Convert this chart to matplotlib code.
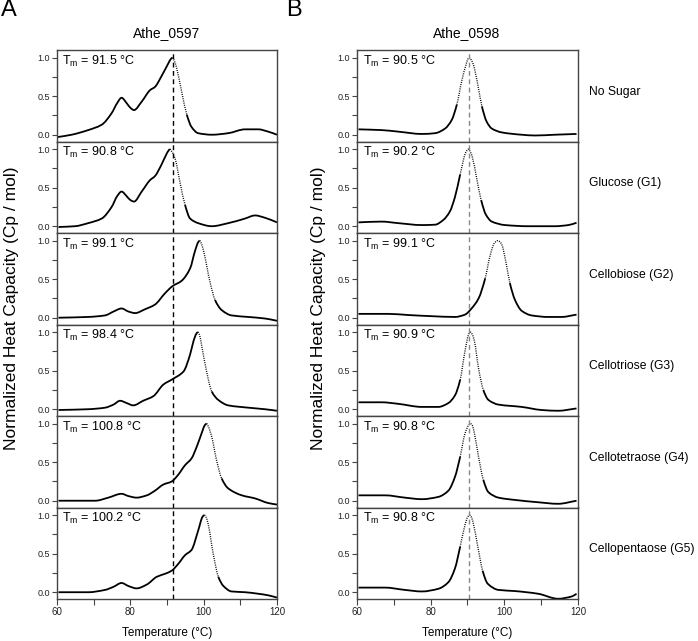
import matplotlib
matplotlib.use("Agg")
import matplotlib.pyplot as plt
from matplotlib.ticker import MultipleLocator
from matplotlib.path import Path
from matplotlib.patches import PathPatch

plt.rcParams['font.family'] = ['Liberation Sans', 'DejaVu Sans']
plt.rcParams['mathtext.fontset'] = 'custom'
plt.rcParams['mathtext.rm'] = 'Liberation Sans'
plt.rcParams['mathtext.it'] = 'Liberation Sans'

sugars = ["No Sugar", "Glucose (G1)", "Cellobiose (G2)", "Cellotriose (G3)",
          "Cellotetraose (G4)", "Cellopentaose (G5)"]
tm_0597 = ["91.5", "90.8", "99.1", "98.4", "100.8", "100.2"]
tm_0598 = ["90.5", "90.2", "99.1", "90.9", "90.8", "90.8"]
ref_line_0597 = 91.5
ref_line_0598 = 90.5

# Athe_0597 curves (temperature, normalized Cp)
t_a1 = [60.2, 64.0, 68.5, 72.2, 74.9, 76.4, 77.6, 79.0, 80.0, 81.0, 83.1, 85.4, 86.7, 88.5, 90.4, 91.0, 91.5, 92.0, 92.6, 94.0, 95.4, 96.7, 98.5, 102.2, 106.7, 111.3, 114.9, 117.6, 120.0]
v_a1 = [-0.03, 0.0, 0.06, 0.13, 0.28, 0.41, 0.48, 0.41, 0.35, 0.32, 0.43, 0.58, 0.62, 0.76, 0.93, 0.98, 1.0, 0.96, 0.87, 0.56, 0.26, 0.10, 0.02, 0.0, 0.02, 0.07, 0.07, 0.04, 0.0]
t_a2 = [60.4, 64.9, 68.5, 72.2, 74.9, 76.4, 77.6, 79.0, 80.0, 81.0, 83.1, 85.4, 86.7, 88.5, 90.0, 90.4, 90.8, 91.3, 92.2, 93.5, 94.9, 96.3, 98.5, 102.2, 106.7, 111.3, 114.0, 116.7, 120.0]
v_a2 = [-0.01, 0.0, 0.04, 0.10, 0.25, 0.39, 0.45, 0.39, 0.34, 0.32, 0.45, 0.60, 0.65, 0.80, 0.95, 0.98, 1.0, 0.97, 0.88, 0.58, 0.28, 0.10, 0.04, 0.0, 0.04, 0.10, 0.14, 0.11, 0.05]
t_a3 = [60.4, 68.5, 73.1, 75.4, 77.6, 79.5, 81.3, 84.0, 86.7, 89.5, 91.5, 94.0, 96.3, 97.6, 98.5, 98.9, 99.4, 100.2, 101.7, 103.1, 104.9, 107.6, 112.2, 116.7, 120.0]
v_a3 = [0.0, 0.01, 0.03, 0.08, 0.12, 0.08, 0.06, 0.11, 0.17, 0.32, 0.41, 0.48, 0.64, 0.86, 0.98, 1.0, 0.96, 0.82, 0.47, 0.23, 0.10, 0.03, 0.01, -0.01, -0.04]
t_a4 = [60.4, 68.5, 73.1, 75.4, 77.2, 79.0, 80.8, 83.5, 86.3, 89.0, 91.5, 94.5, 96.3, 97.2, 98.0, 98.4, 98.9, 99.4, 100.8, 102.2, 104.0, 106.7, 112.2, 116.7, 120.0]
v_a4 = [-0.01, 0.0, 0.02, 0.06, 0.11, 0.08, 0.05, 0.11, 0.17, 0.32, 0.39, 0.49, 0.71, 0.88, 0.98, 1.0, 0.96, 0.84, 0.49, 0.23, 0.12, 0.05, 0.02, 0.0, -0.02]
t_a5 = [60.4, 70.4, 74.0, 77.6, 79.5, 81.7, 84.5, 86.7, 89.0, 91.3, 93.1, 94.9, 96.7, 98.1, 99.4, 100.3, 100.8, 101.3, 102.2, 103.5, 104.9, 106.7, 110.4, 114.0, 117.6, 120.0]
v_a5 = [0.0, 0.0, 0.04, 0.09, 0.06, 0.04, 0.07, 0.13, 0.21, 0.25, 0.34, 0.46, 0.55, 0.70, 0.87, 0.98, 1.0, 0.96, 0.83, 0.53, 0.29, 0.16, 0.07, 0.03, -0.03, -0.05]
t_a6 = [60.4, 68.5, 73.1, 75.4, 77.6, 79.5, 81.7, 84.5, 87.2, 89.5, 91.3, 93.1, 94.9, 96.7, 98.5, 99.7, 100.2, 100.7, 101.3, 102.6, 104.0, 105.4, 107.6, 111.3, 114.9, 117.6, 120.0]
v_a6 = [0.0, 0.0, 0.03, 0.07, 0.12, 0.08, 0.05, 0.10, 0.20, 0.24, 0.28, 0.37, 0.48, 0.55, 0.80, 0.98, 1.0, 0.97, 0.87, 0.50, 0.20, 0.08, 0.01, 0.0, -0.02, -0.04, -0.07]

# Athe_0598 curves
t_b1 = [60.4, 66.7, 71.2, 77.6, 81.2, 83.9, 85.7, 87.1, 88.4, 89.6, 90.1, 90.5, 90.9, 91.6, 92.8, 93.9, 95.2, 96.6, 99.3, 104.7, 108.3, 113.7, 119.6]
v_b1 = [0.07, 0.06, 0.04, 0.01, 0.02, 0.08, 0.19, 0.39, 0.69, 0.91, 0.98, 1.0, 0.98, 0.91, 0.65, 0.37, 0.17, 0.08, 0.03, 0.0, -0.01, 0.0, 0.01]
t_b2 = [60.4, 66.7, 71.2, 77.6, 81.2, 83.4, 85.2, 86.6, 88.0, 89.3, 89.8, 90.2, 90.6, 91.3, 92.5, 93.7, 95.0, 96.6, 100.2, 106.5, 113.7, 117.4, 119.6]
v_b2 = [0.05, 0.06, 0.04, 0.015, 0.02, 0.08, 0.19, 0.38, 0.67, 0.93, 0.98, 1.0, 0.98, 0.90, 0.62, 0.34, 0.15, 0.06, 0.015, 0.0, 0.0, 0.015, 0.045]
t_b3 = [60.4, 68.5, 73.9, 80.3, 86.6, 89.3, 91.1, 93.0, 94.8, 96.1, 97.3, 97.8, 98.2, 98.7, 99.3, 100.4, 101.5, 102.9, 104.7, 107.4, 111.9, 115.5, 119.6]
v_b3 = [0.05, 0.05, 0.035, 0.02, 0.01, 0.04, 0.12, 0.25, 0.51, 0.80, 0.97, 0.99, 1.0, 0.99, 0.95, 0.73, 0.45, 0.23, 0.09, 0.03, 0.01, 0.01, 0.04]
t_b4 = [60.4, 66.7, 71.2, 77.6, 82.1, 84.8, 86.6, 88.0, 89.3, 90.3, 90.8, 91.3, 91.9, 93.0, 94.3, 95.7, 98.4, 104.7, 110.1, 114.6, 119.6]
v_b4 = [0.09, 0.09, 0.07, 0.03, 0.03, 0.08, 0.18, 0.38, 0.75, 0.97, 1.0, 0.97, 0.88, 0.53, 0.25, 0.12, 0.06, 0.03, -0.01, -0.02, 0.01]
t_b5 = [60.4, 67.6, 73.0, 77.6, 82.1, 84.8, 86.6, 88.0, 89.3, 90.3, 90.8, 91.3, 91.9, 93.0, 94.3, 95.7, 98.4, 102.9, 109.2, 114.6, 119.6]
v_b5 = [0.07, 0.07, 0.04, 0.02, 0.05, 0.13, 0.31, 0.57, 0.87, 0.98, 1.0, 0.98, 0.87, 0.57, 0.27, 0.11, 0.04, 0.01, -0.02, -0.04, 0.0]
t_b6 = [60.4, 67.6, 73.0, 77.6, 82.1, 84.8, 86.6, 88.0, 89.3, 90.1, 90.6, 91.1, 91.6, 92.8, 94.1, 95.5, 98.4, 102.9, 109.2, 114.6, 118.3, 119.6]
v_b6 = [0.06, 0.06, 0.03, 0.01, 0.045, 0.13, 0.31, 0.59, 0.87, 0.98, 1.0, 0.97, 0.89, 0.59, 0.28, 0.11, 0.03, 0.015, -0.02, -0.085, -0.055, -0.02]

curves_a = [(t_a1, v_a1), (t_a2, v_a2), (t_a3, v_a3), (t_a4, v_a4), (t_a5, v_a5), (t_a6, v_a6)]
curves_b = [(t_b1, v_b1), (t_b2, v_b2), (t_b3, v_b3), (t_b4, v_b4), (t_b5, v_b5), (t_b6, v_b6)]

W, H = 698, 641
fig = plt.figure(figsize=(W / 100, H / 100), dpi=100)

spine_col = '#444444'
panel_h = 91.5
top_px = 50


def slopes(t, v):
    n = len(t)
    d = [(v[k + 1] - v[k]) / (t[k + 1] - t[k]) for k in range(n - 1)]
    m = [0.0] * n
    m[0], m[-1] = d[0], d[-1]
    for k in range(1, n - 1):
        if d[k - 1] * d[k] <= 0:
            m[k] = 0.0
        else:
            m[k] = 2.0 / (1.0 / d[k - 1] + 1.0 / d[k])
    return m


def smooth_path(t, v, m, i0, i1):
    verts = [(t[i0], v[i0])]
    codes = [Path.MOVETO]
    for k in range(i0, i1):
        dx = t[k + 1] - t[k]
        verts += [(t[k] + dx / 3, v[k] + m[k] * dx / 3),
                  (t[k + 1] - dx / 3, v[k + 1] - m[k + 1] * dx / 3),
                  (t[k + 1], v[k + 1])]
        codes += [Path.CURVE4] * 3
    return Path(verts, codes)


def draw_curve(ax, t, v, dot_lo, dot_hi):
    m = slopes(t, v)
    i0 = next(i for i, x in enumerate(t) if x >= dot_lo)
    i1 = max(i for i, x in enumerate(t) if x <= dot_hi)
    n = len(t)
    ax.add_patch(PathPatch(smooth_path(t, v, m, 0, i0), fill=False, ec='black', lw=1.3,
                           joinstyle='round', capstyle='butt'))
    ax.add_patch(PathPatch(smooth_path(t, v, m, i0, i1), fill=False, ec='black', lw=1.0,
                           linestyle=(0, (0.7, 0.9))))
    ax.add_patch(PathPatch(smooth_path(t, v, m, i1, n - 1), fill=False, ec='black', lw=1.3,
                           joinstyle='round', capstyle='butt'))


def make_col(x0_px, w_px, curves, tms, ref, ref_col, dotted):
    axes = []
    for i in range(6):
        y_top = top_px + i * panel_h
        ax = fig.add_axes([x0_px / W, 1 - (y_top + panel_h) / H, w_px / W, panel_h / H])
        t, v = curves[i]
        peak = t[v.index(max(v))]
        lo, hi = dotted(peak)
        draw_curve(ax, t, v, lo, hi)
        ax.axvline(ref, color=ref_col, lw=1.0, linestyle=(0, (3.5, 2.5)), zorder=1)
        ax.set_xlim(60, 120)
        ax.set_ylim(-0.088, 1.10)
        ax.yaxis.set_minor_locator(MultipleLocator(0.25))
        ax.set_yticks([0.0, 0.5, 1.0])
        ax.set_yticklabels(['0.0', '0.5', '1.0'])
        ax.tick_params(axis='y', which='both', direction='out', length=3.5, width=0.8,
                       color=spine_col, labelsize=6.5, pad=1.5, labelcolor='#222222')
        ax.xaxis.set_major_locator(MultipleLocator(20))
        ax.xaxis.set_minor_locator(MultipleLocator(10))
        if i < 5:
            ax.tick_params(axis='x', which='both', bottom=False, labelbottom=False)
        else:
            ax.tick_params(axis='x', which='both', direction='out', length=4, width=0.8,
                           color=spine_col, labelsize=7, pad=2, labelcolor='#222222')
        for s in ax.spines.values():
            s.set_color(spine_col)
            s.set_linewidth(1.0)
        ax.text(0.025, 0.875, r'T$_{\mathrm{m}}$ = ' + tms[i] + ' °C', transform=ax.transAxes,
                fontsize=9, va='center', ha='left')
        axes.append(ax)
    return axes


axA = make_col(57, 220, curves_a, tm_0597, ref_line_0597, 'black',
               lambda p: (p, p + 4.5))
axB = make_col(357, 221, curves_b, tm_0598, ref_line_0598, '#888888',
               lambda p: (p - 3.5, p + 3.5))

for i, s in enumerate(sugars):
    yc = top_px + i * panel_h + panel_h / 2 - 4
    fig.text(589 / W, 1 - yc / H, s, fontsize=8.7, va='center', ha='left')

fig.text(167 / W, 1 - 33 / H, 'Athe_0597', fontsize=10, ha='center', va='center')
fig.text(467 / W, 1 - 33 / H, 'Athe_0598', fontsize=10, ha='center', va='center')
fig.text(1 / W, 1 - 10 / H, 'A', fontsize=17, ha='left', va='center')
fig.text(286 / W, 1 - 10 / H, 'B', fontsize=17, ha='left', va='center')

fig.text(12 / W, 1 - 308 / H, 'Normalized Heat Capacity (Cp / mol)', rotation=90,
         fontsize=12.5, ha='center', va='center')
fig.text(318 / W, 1 - 308 / H, 'Normalized Heat Capacity (Cp / mol)', rotation=90,
         fontsize=12.5, ha='center', va='center')
fig.text(167 / W, 1 - 633 / H, 'Temperature (°C)', fontsize=8.5, ha='center', va='center')
fig.text(467 / W, 1 - 633 / H, 'Temperature (°C)', fontsize=8.5, ha='center', va='center')

fig.savefig('out.png', dpi=100)
